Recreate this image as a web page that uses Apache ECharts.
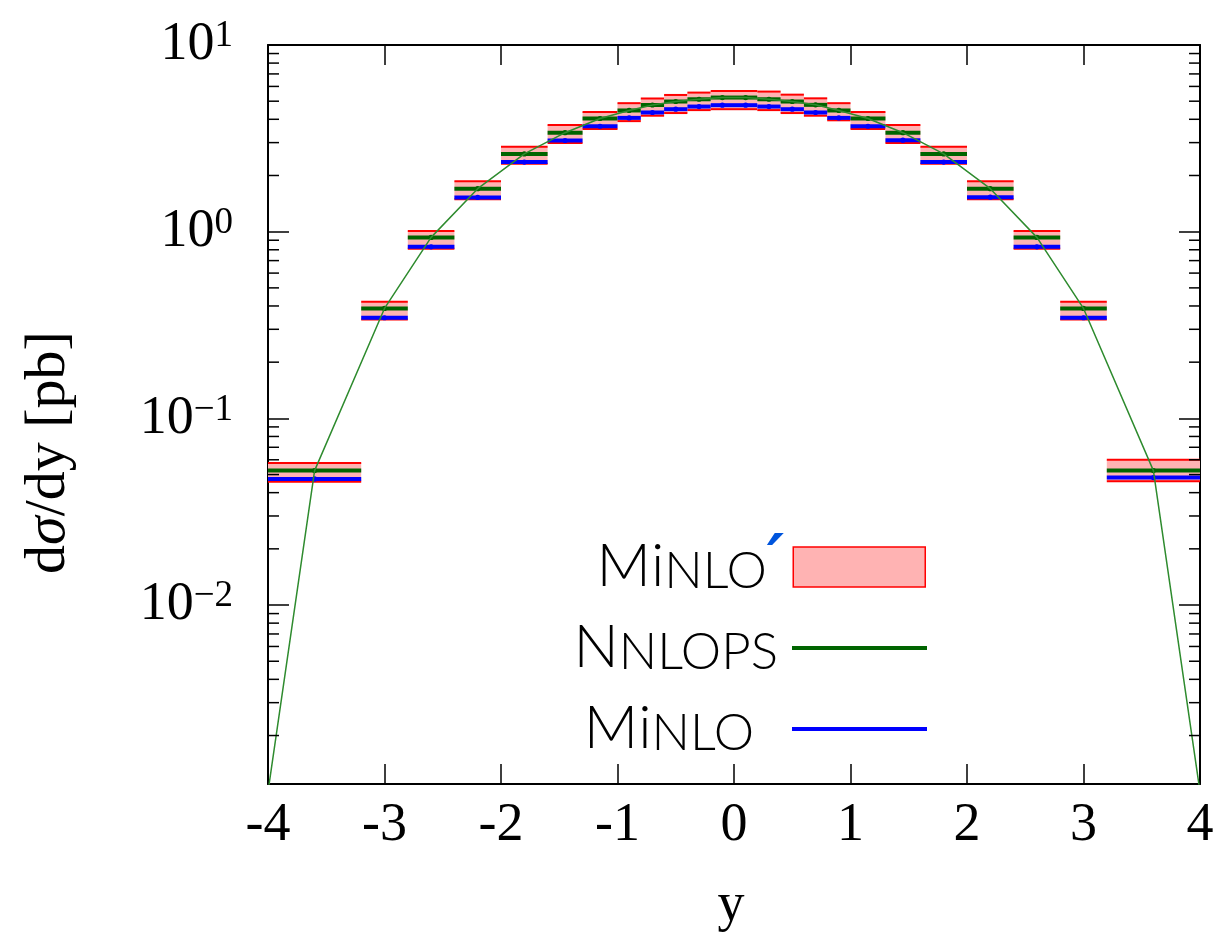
<!DOCTYPE html>
<html>
<head>
<meta charset="utf-8">
<script src="https://cdn.jsdelivr.net/npm/echarts@6/dist/echarts.min.js"></script>
<style>
  html, body { margin: 0; padding: 0; background: #ffffff; }
  #chart { width: 1222px; height: 938px; }
</style>
</head>
<body>
<div id="chart"></div>
<script>
// Rapidity bins (edges) of the Higgs-boson distribution
const binEdges = [-4, -3.2, -2.8, -2.4, -2.0, -1.6, -1.3, -1.0, -0.8, -0.6, -0.4, -0.2, 0,
                  0.2, 0.4, 0.6, 0.8, 1.0, 1.3, 1.6, 2.0, 2.4, 2.8, 3.2, 4];

// dσ/dy [pb] per bin
const nnlops = [0.0525, 0.388, 0.932, 1.70, 2.61, 3.39, 4.04, 4.46, 4.77, 4.98, 5.12, 5.23,
                5.23, 5.12, 4.98, 4.78, 4.46, 4.04, 3.39, 2.61, 1.70, 0.932, 0.388, 0.0525];
const minlo = [0.0474, 0.346, 0.830, 1.525, 2.36, 3.08, 3.67, 4.07, 4.35, 4.53, 4.68, 4.76,
               4.76, 4.68, 4.53, 4.35, 4.07, 3.67, 3.09, 2.36, 1.53, 0.830, 0.346, 0.0482];
const minloPrimeLow = [0.0457, 0.339, 0.81, 1.494, 2.31, 2.99, 3.55, 3.91, 4.18, 4.32, 4.48, 4.53,
                       4.53, 4.48, 4.32, 4.18, 3.95, 3.55, 2.99, 2.31, 1.494, 0.81, 0.339, 0.0461];
const minloPrimeHigh = [0.0577, 0.421, 1.01, 1.86, 2.85, 3.73, 4.38, 4.88, 5.17, 5.40, 5.56, 5.67,
                        5.67, 5.63, 5.42, 5.18, 4.88, 4.38, 3.73, 2.85, 1.86, 1.01, 0.421, 0.0601];

// Thin NNLOPS curve through the bin centres, with its tails at |y| = 4
const curveX = [-4, -3.6, -3.0, -2.6, -2.2, -1.8, -1.45, -1.15, -0.9, -0.7, -0.5, -0.3, -0.1,
                0.1, 0.3, 0.5, 0.7, 0.9, 1.15, 1.45, 1.8, 2.2, 2.6, 3.0, 3.6, 4];
const curveY = [0.001, 0.0525, 0.388, 0.932, 1.70, 2.61, 3.39, 4.04, 4.46, 4.77, 4.98, 5.12, 5.23,
                5.23, 5.12, 4.98, 4.78, 4.46, 4.04, 3.39, 2.61, 1.70, 0.932, 0.388, 0.0525, 0.001];

// Axis ticks
const xTicks = [-4, -3, -2, -1, 0, 1, 2, 3, 4];
const yDecades = [-2, -1, 0, 1];
const minorMultipliers = [2, 3, 4, 5, 6, 7, 8, 9];
const Y_MIN = 0.0011, Y_MAX = 10;
const X_MIN = xTicks[0], X_MAX = xTicks[xTicks.length - 1];

const SERIF = "'Liberation Serif', 'DejaVu Serif', serif";
const SANS = "Lato, 'Open Sans', sans-serif";

const bandData = binEdges.slice(0, -1).map((lo, i) => [lo, binEdges[i + 1], minloPrimeLow[i], minloPrimeHigh[i]]);
const nnlopsData = binEdges.slice(0, -1).map((lo, i) => [lo, binEdges[i + 1], nnlops[i]]);
const minloData = binEdges.slice(0, -1).map((lo, i) => [lo, binEdges[i + 1], minlo[i]]);
const curveData = curveX.map((x, i) => [x, curveY[i]]);

const minorData = [];
yDecades.concat([-3]).forEach(d => {
  minorMultipliers.forEach(m => {
    const v = m * Math.pow(10, d);
    if (v > Y_MIN && v < Y_MAX) minorData.push([X_MIN, v]);
  });
});

function renderBand(params, api) {
  const lo = api.value(0), hi = api.value(1), low = api.value(2), high = api.value(3);
  const a = api.coord([lo, high]);
  const b = api.coord([hi, low]);
  return {
    type: 'group',
    children: [
      { type: 'rect', shape: { x: a[0], y: a[1], width: b[0] - a[0], height: b[1] - a[1] },
        style: { fill: '#ffb3b3' } },
      { type: 'line', shape: { x1: a[0], y1: a[1], x2: b[0], y2: a[1] },
        style: { stroke: '#ff0000', lineWidth: 2 } },
      { type: 'line', shape: { x1: a[0], y1: b[1], x2: b[0], y2: b[1] },
        style: { stroke: '#ff0000', lineWidth: 2 } }
    ]
  };
}

function stepRenderer(color) {
  return function (params, api) {
    const lo = api.value(0), hi = api.value(1), v = api.value(2);
    const a = api.coord([lo, v]);
    const b = api.coord([hi, v]);
    const c = api.coord([(lo + hi) / 2, v]);
    return {
      type: 'group',
      children: [
        { type: 'line', shape: { x1: a[0], y1: a[1], x2: b[0], y2: b[1] },
          style: { stroke: color, lineWidth: 4 } },
        { type: 'circle', shape: { cx: c[0], cy: c[1], r: 2.6 }, style: { fill: color } }
      ]
    };
  };
}

function renderMinorTick(params, api) {
  const v = api.value(1);
  const L = api.coord([X_MIN, v]);
  const R = api.coord([X_MAX, v]);
  return {
    type: 'group',
    children: [
      { type: 'line', shape: { x1: L[0], y1: L[1], x2: L[0] + 11, y2: L[1] },
        style: { stroke: '#000', lineWidth: 1.5 } },
      { type: 'line', shape: { x1: R[0], y1: R[1], x2: R[0] - 11, y2: R[1] },
        style: { stroke: '#000', lineWidth: 1.5 } }
    ]
  };
}

function decadeLabel(v) {
  const e = Math.log10(v);
  const r = Math.round(e);
  if (Math.abs(e - r) > 1e-6 || yDecades.indexOf(r) < 0) return '';
  const exp = r < 0 ? '\u2212' + (-r) : String(r);
  return '{b|10}{s|' + exp + '}';
}

const legendRich = {
  m: { fontFamily: SANS, fontWeight: 300, fontSize: 60, lineHeight: 60, verticalAlign: 'bottom', color: '#000' },
  l: { fontFamily: SANS, fontWeight: 300, fontSize: 60, lineHeight: 60, verticalAlign: 'bottom', color: '#000' },
  s: { fontFamily: SANS, fontWeight: 300, fontSize: 51, lineHeight: 60, verticalAlign: 'bottom', color: '#000' },
  p: { fontFamily: "'DejaVu Sans', sans-serif", fontWeight: 'bold', fontStyle: 'italic', fontSize: 66,
       lineHeight: 60, verticalAlign: 'bottom', color: '#0055dd' },
  g1: { width: 4, lineHeight: 60 },
  g2: { width: 9, lineHeight: 60 },
  g3: { width: 33, lineHeight: 60 }
};

const legendLabels = {
  'MiNLO\u2032': '{m|M}{l|i}{s|NLO}{p|\u2032}{g1| }',
  'NNLOPS': '{m|N}{s|NLOPS}{g2| }',
  'MiNLO': '{m|M}{l|i}{s|NLO}{g3| }'
};

function legendFor(name, icon, style, w, h, right, top) {
  return {
    data: [{ name: name, icon: icon, itemStyle: style }],
    orient: 'vertical',
    align: 'right',
    right: right,
    top: top,
    padding: 0,
    itemWidth: w,
    itemHeight: h,
    selectedMode: false,
    formatter: n => legendLabels[n],
    textStyle: { rich: legendRich }
  };
}

const chart = echarts.init(document.getElementById('chart'), null, { renderer: 'canvas' });

chart.setOption({
  animation: false,
  backgroundColor: '#ffffff',
  grid: { left: 268, top: 45, width: 932, height: 745, containLabel: false },
  legend: [
    legendFor('MiNLO\u2032', 'rect', { color: '#ffb3b3', borderColor: '#ff0000', borderWidth: 1.5 }, 132, 40, 296, 531),
    legendFor('NNLOPS', 'rect', { color: '#006400', borderWidth: 0 }, 135, 4, 295, 618),
    legendFor('MiNLO', 'rect', { color: '#0000ff', borderWidth: 0 }, 135, 4, 295, 699)
  ],
  xAxis: [
    {
      type: 'value', position: 'bottom', min: X_MIN, max: X_MAX, interval: 1,
      axisLine: { show: true, onZero: false, lineStyle: { color: '#000', width: 2 } },
      axisTick: { show: true, inside: true, length: 20, lineStyle: { color: '#000', width: 1.5 } },
      axisLabel: { show: true, margin: 15, color: '#000', fontFamily: SERIF, fontSize: 54,
                   formatter: v => String(v) },
      splitLine: { show: false },
      name: 'y', nameLocation: 'middle', nameGap: 95,
      nameTextStyle: { fontFamily: SERIF, fontSize: 54, color: '#000', padding: [0, 6, 0, 0] }
    },
    {
      type: 'value', position: 'top', min: X_MIN, max: X_MAX, interval: 1,
      axisLine: { show: true, onZero: false, lineStyle: { color: '#000', width: 2 } },
      axisTick: { show: true, inside: true, length: 20, lineStyle: { color: '#000', width: 1.5 } },
      axisLabel: { show: false },
      splitLine: { show: false }
    }
  ],
  yAxis: [
    {
      type: 'log', logBase: 10, position: 'left', min: Y_MIN, max: Y_MAX,
      axisLine: { show: true, onZero: false, lineStyle: { color: '#000', width: 2 } },
      axisTick: { show: true, inside: true, length: 21, lineStyle: { color: '#000', width: 1.5 } },
      axisLabel: {
        show: true, margin: 35, color: '#000', formatter: decadeLabel,
        rich: {
          b: { fontFamily: SERIF, fontSize: 54, lineHeight: 54, verticalAlign: 'bottom', color: '#000' },
          s: { fontFamily: SERIF, fontSize: 37, lineHeight: 54, verticalAlign: 'top', color: '#000' }
        }
      },
      splitLine: { show: false },
      name: '{r|d}{i|\u03c3}{r|/dy [pb]}', nameLocation: 'middle', nameRotate: 90, nameGap: 190,
      nameTextStyle: {
        padding: [0, 76, 0, 0],
        rich: {
          r: { fontFamily: SERIF, fontSize: 58, color: '#000' },
          i: { fontFamily: SERIF, fontSize: 58, fontStyle: 'italic', color: '#000' }
        }
      }
    },
    {
      type: 'log', logBase: 10, position: 'right', min: Y_MIN, max: Y_MAX,
      axisLine: { show: true, onZero: false, lineStyle: { color: '#000', width: 2 } },
      axisTick: { show: true, inside: true, length: 21, lineStyle: { color: '#000', width: 1.5 } },
      axisLabel: { show: false },
      splitLine: { show: false }
    }
  ],
  series: [
    {
      name: 'MiNLO\u2032', type: 'custom', renderItem: renderBand, data: bandData,
      encode: { x: [0, 1], y: [2, 3] }, itemStyle: { color: '#ffb3b3' }, silent: true, z: 2
    },
    {
      name: 'NNLOPS', type: 'custom', renderItem: stepRenderer('#006400'), data: nnlopsData,
      encode: { x: [0, 1], y: 2 }, itemStyle: { color: '#006400' }, silent: true, z: 3
    },
    {
      name: 'MiNLO', type: 'custom', renderItem: stepRenderer('#0000ff'), data: minloData,
      encode: { x: [0, 1], y: 2 }, itemStyle: { color: '#0000ff' }, silent: true, z: 4
    },
    {
      name: 'NNLOPS curve', type: 'line', data: curveData, showSymbol: false, symbol: 'none',
      lineStyle: { color: '#2e8b2e', width: 1.5 }, clip: true, silent: true, z: 5
    },
    {
      name: 'minor ticks', type: 'custom', renderItem: renderMinorTick, data: minorData,
      encode: { x: 0, y: 1 }, silent: true, z: 6
    }
  ]
});
</script>
</body>
</html>
